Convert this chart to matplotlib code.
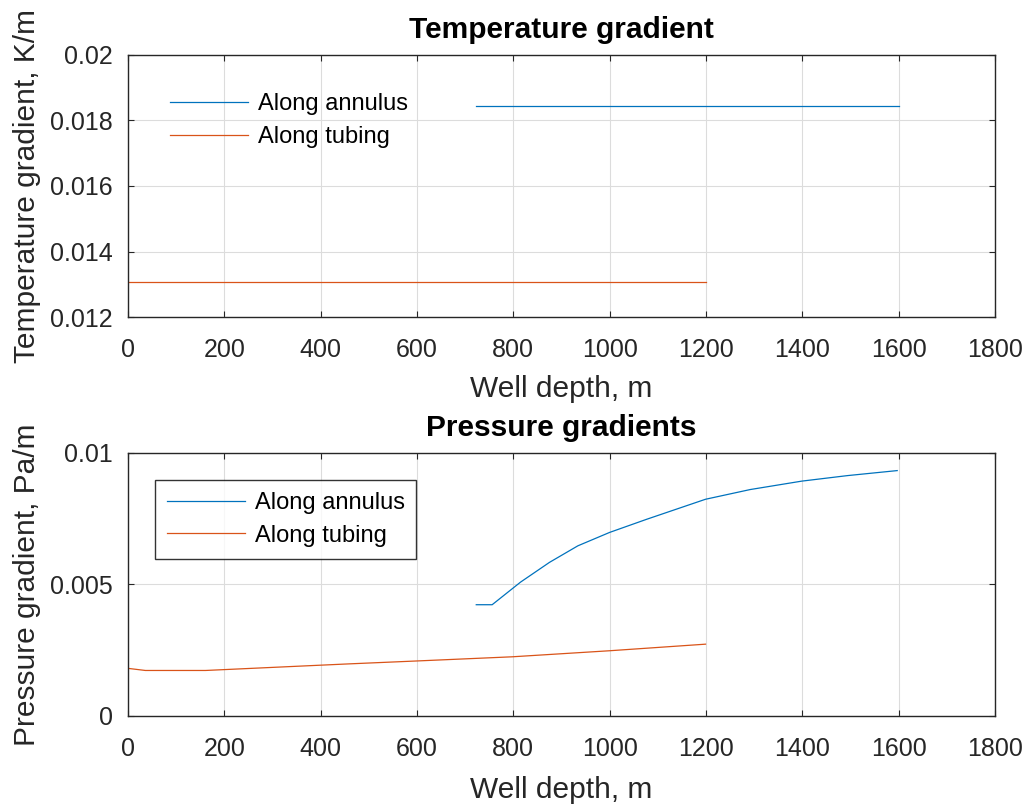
import matplotlib
matplotlib.use("Agg")
import matplotlib.pyplot as plt
import numpy as np

plt.rcParams['font.family'] = ['Liberation Sans', 'DejaVu Sans']

# Temperature gradient data
temp_annulus_depth = [723, 1600]
temp_annulus_grad = [0.01845, 0.01845]
temp_tubing_depth = [0, 1200]
temp_tubing_grad = [0.01307, 0.01307]

# Pressure gradient data
pres_annulus_depth = [723, 756, 815, 875, 934, 1000, 1077, 1199, 1292, 1399, 1494, 1597]
pres_annulus_grad = [0.00423, 0.00423, 0.00509, 0.00584, 0.00647, 0.00698, 0.00748,
                     0.00824, 0.00861, 0.00893, 0.00914, 0.00933]
pres_tubing_depth = [0, 36, 161, 339, 458, 598, 798, 1000, 1199]
pres_tubing_grad = [0.00181, 0.00173, 0.00173, 0.00188, 0.00198, 0.00209, 0.00225,
                    0.00248, 0.00273]

x_ticks = [0, 200, 400, 600, 800, 1000, 1200, 1400, 1600, 1800]
temp_yticks = [0.012, 0.014, 0.016, 0.018, 0.02]
temp_yticklabels = ['0.012', '0.014', '0.016', '0.018', '0.02']
pres_yticks = [0, 0.005, 0.01]
pres_yticklabels = ['0', '0.005', '0.01']

C_BLUE = '#0072BD'
C_ORANGE = '#D95319'
AX_COL = '#262626'

fig = plt.figure(figsize=(10.30, 8.05), dpi=100)
ax1 = fig.add_axes([0.1243, 0.6062, 0.8417, 0.3255])
ax2 = fig.add_axes([0.1243, 0.1106, 0.8417, 0.3267])

def style(ax, yticks, ylabels, ylim, title, ylabel, xlabel_y):
    ax.set_xlim(0, 1800)
    ax.set_ylim(*ylim)
    ax.set_xticks(x_ticks)
    ax.set_xticklabels([str(v) for v in x_ticks])
    ax.set_yticks(yticks)
    ax.set_yticklabels(ylabels)
    ax.grid(True, color='#dcdcdc', linewidth=0.8)
    ax.set_axisbelow(True)
    ax.tick_params(direction='in', top=True, right=True, labelsize=18,
                   colors=AX_COL, length=4, width=0.8)
    ax.tick_params(axis='x', pad=15)
    ax.tick_params(axis='y', pad=11)
    for s in ax.spines.values():
        s.set_color(AX_COL)
        s.set_linewidth(1.0)
    ax.set_title(title, fontsize=21.5, fontweight='bold', color='black', pad=12)
    ax.set_xlabel('Well depth, m', fontsize=21.5, color=AX_COL)
    ax.set_ylabel(ylabel, fontsize=21.5, color=AX_COL)
    ax.xaxis.set_label_coords(0.5, xlabel_y)
    ax.yaxis.set_label_coords(-0.100, 0.5)

ax1.plot(temp_annulus_depth, temp_annulus_grad, color=C_BLUE, lw=0.9, label='Along annulus')
ax1.plot(temp_tubing_depth, temp_tubing_grad, color=C_ORANGE, lw=0.9, label='Along tubing')
style(ax1, temp_yticks, temp_yticklabels, (0.012, 0.02), 'Temperature gradient',
      'Temperature gradient, K/m', -0.223)
ax1.legend(loc='upper left', bbox_to_anchor=(0.0376, 0.891), borderaxespad=0, frameon=False,
           fontsize=17, handlelength=3.3, handletextpad=0.42, labelspacing=0.46, borderpad=0.4)

ax2.plot(pres_annulus_depth, pres_annulus_grad, color=C_BLUE, lw=0.9, label='Along annulus')
ax2.plot(pres_tubing_depth, pres_tubing_grad, color=C_ORANGE, lw=0.9, label='Along tubing')
style(ax2, pres_yticks, pres_yticklabels, (0, 0.01), 'Pressure gradients',
      'Pressure gradient, Pa/m', -0.228)
leg2 = ax2.legend(loc='upper left', bbox_to_anchor=(0.031, 0.897), borderaxespad=0,
                  frameon=True, fancybox=False, edgecolor='black', fontsize=17,
                  handlelength=3.3, handletextpad=0.42, labelspacing=0.46, borderpad=0.5)
leg2.get_frame().set_linewidth(1.0)

fig.savefig('out.png', dpi=100, facecolor='white')
